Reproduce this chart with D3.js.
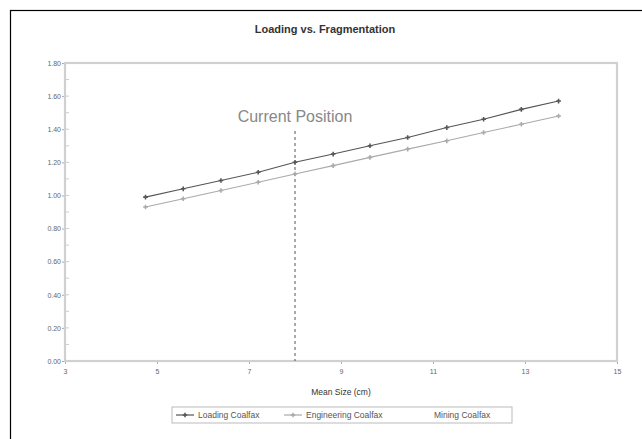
<!DOCTYPE html>
<html>
<head>
<meta charset="utf-8">
<script src="https://cdn.jsdelivr.net/npm/d3@7"></script>
<style>
  body { margin: 0; background: #fff; }
  text { font-family: "Liberation Sans", Arial, sans-serif; }
</style>
</head>
<body>
<div id="chart"></div>
<script>
// données
const meanSize = [4.75, 5.57, 6.39, 7.2, 8.0, 8.83, 9.63, 10.45, 11.3, 12.1, 12.92, 13.73];
const loading = [0.99, 1.04, 1.09, 1.14, 1.2, 1.25, 1.3, 1.35, 1.41, 1.46, 1.52, 1.57];
const engineering = [0.93, 0.98, 1.03, 1.08, 1.13, 1.18, 1.23, 1.28, 1.33, 1.38, 1.43, 1.48];
const seriesNames = ["Loading Coalfax", "Engineering Coalfax", "Mining Coalfax"];
const xTicks = [3, 5, 7, 9, 11, 13, 15];
const yTicks = [0, 0.2, 0.4, 0.6, 0.8, 1.0, 1.2, 1.4, 1.6, 1.8];
const currentPosition = 8.0;

const width = 642;
const height = 439;
const plot = { left: 65, right: 617, top: 63, bottom: 361 };

const svg = d3.select("#chart").append("svg")
  .attr("width", width)
  .attr("height", height);

// cadre extérieur
svg.append("rect")
  .attr("x", 10.5).attr("y", 10.5)
  .attr("width", width).attr("height", height)
  .attr("fill", "none").attr("stroke", "#000").attr("stroke-width", 1.2);

const x = d3.scaleLinear().domain([3, 15]).range([plot.left, plot.right]);
const y = d3.scaleLinear().domain([0, 1.8]).range([plot.bottom, plot.top]);

// titre
svg.append("text")
  .attr("x", 325).attr("y", 33)
  .attr("text-anchor", "middle")
  .attr("font-size", 11).attr("font-weight", "bold").attr("fill", "#333")
  .text("Loading vs. Fragmentation");

// axe Y
const yAxis = svg.append("g")
  .attr("transform", "translate(" + plot.left + ",0)")
  .call(d3.axisLeft(y).tickValues(yTicks).tickSize(3).tickFormat(d3.format(".2f")));
yAxis.select(".domain").remove();
yAxis.selectAll("line").attr("stroke", "#aaa");
yAxis.selectAll("text").attr("font-size", 7).attr("fill", "#666").attr("x", -4);

// petites graduations intérieures
svg.append("g").selectAll("line")
  .data(d3.range(0, 19).map((i) => i / 10))
  .enter().append("line")
  .attr("x1", plot.left + 1).attr("x2", plot.left + 4)
  .attr("y1", (d) => y(d)).attr("y2", (d) => y(d))
  .attr("stroke", "#ccc");

// axe X
const xAxis = svg.append("g")
  .attr("transform", "translate(0," + plot.bottom + ")")
  .call(d3.axisBottom(x).tickValues(xTicks).tickSize(3).tickFormat(d3.format("d")));
xAxis.select(".domain").remove();
xAxis.selectAll("line").attr("stroke", "#aaa");
xAxis.selectAll("text").attr("font-size", 7).attr("fill", "#666").attr("y", 8);

// cadre du graphique
svg.append("rect")
  .attr("x", plot.left).attr("y", plot.top)
  .attr("width", plot.right - plot.left).attr("height", plot.bottom - plot.top)
  .attr("fill", "none").attr("stroke", "#d0d0d0").attr("stroke-width", 2.2);

// titre de l'axe X
svg.append("text")
  .attr("x", (plot.left + plot.right) / 2).attr("y", 395)
  .attr("text-anchor", "middle")
  .attr("font-size", 8.5).attr("fill", "#333")
  .text("Mean Size (cm)");

// position actuelle
svg.append("line")
  .attr("x1", x(currentPosition)).attr("x2", x(currentPosition))
  .attr("y1", 131).attr("y2", plot.bottom)
  .attr("stroke", "#555").attr("stroke-width", 1)
  .attr("stroke-dasharray", "3,3");
svg.append("text")
  .attr("x", x(currentPosition)).attr("y", 122)
  .attr("text-anchor", "middle")
  .attr("font-size", 16).attr("fill", "#888")
  .text("Current Position");

// séries
const series = [
  { name: seriesNames[0], values: loading, color: "#555" },
  { name: seriesNames[1], values: engineering, color: "#aaa" },
];
const line = d3.line().x((d) => x(d[0])).y((d) => y(d[1]));
const cross = d3.symbol().type(d3.symbolCross).size(12);

series.forEach((s) => {
  const pts = meanSize.map((m, i) => [m, s.values[i]]);
  svg.append("path")
    .datum(pts)
    .attr("d", line)
    .attr("fill", "none")
    .attr("stroke", s.color)
    .attr("stroke-width", 1.1);
  svg.append("g").selectAll("path")
    .data(pts)
    .enter().append("path")
    .attr("d", cross)
    .attr("transform", (d) => "translate(" + x(d[0]) + "," + y(d[1]) + ")")
    .attr("fill", s.color);
});

// légende
const legend = svg.append("g");
legend.append("rect")
  .attr("x", 172).attr("y", 407)
  .attr("width", 340).attr("height", 16)
  .attr("fill", "#fff").attr("stroke", "#bbb");
const legendItems = [
  { name: seriesNames[0], color: "#555", lx: 176, tx: 198, marker: true },
  { name: seriesNames[1], color: "#aaa", lx: 284, tx: 306, marker: true },
  { name: seriesNames[2], color: "#fff", lx: 410, tx: 434, marker: false },
];
legendItems.forEach((d) => {
  if (d.marker) {
    legend.append("line")
      .attr("x1", d.lx).attr("x2", d.lx + 18)
      .attr("y1", 415).attr("y2", 415)
      .attr("stroke", d.color).attr("stroke-width", 1.2);
    legend.append("path")
      .attr("d", cross)
      .attr("transform", "translate(" + (d.lx + 9) + ",415)")
      .attr("fill", d.color);
  }
  legend.append("text")
    .attr("x", d.tx).attr("y", 418)
    .attr("font-size", 8.5).attr("fill", "#555")
    .text(d.name);
});
</script>
</body>
</html>
